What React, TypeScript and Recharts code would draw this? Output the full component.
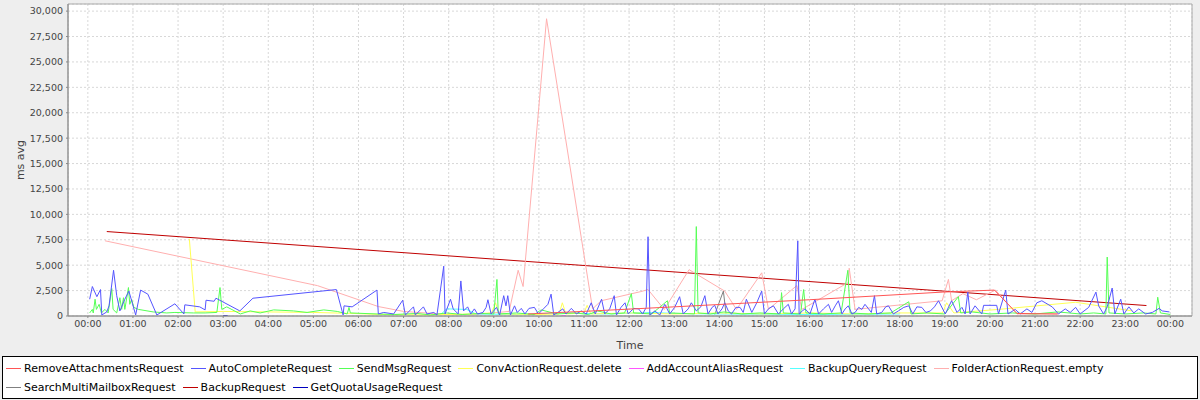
import React from 'react';
import { LineChart, Line, XAxis, YAxis, CartesianGrid, ReferenceArea } from 'recharts';

// [hour of day, ms avg]
const removeAttachments: [number, number][] = [
  [9.76, 200], [11.2, 500], [13.0, 900], [16.0, 1600], [18.94, 2350], [20.1, 2550], [20.6, 250], [21.5, 200],
];

const autoComplete: [number, number][] = [
  [0.04, 1650], [0.1, 2900], [0.2, 1900], [0.28, 2600], [0.31, 100], [0.42, 400], [0.47, 1000], [0.57, 4500],
  [0.64, 2000], [0.71, 500], [0.82, 1650], [0.91, 2450], [0.99, 1200], [1.06, 100], [1.17, 2550], [1.33, 2150],
  [1.53, 100], [1.93, 1200], [2.13, 200], [2.15, 1100], [2.48, 900], [2.6, 600], [2.62, 1550], [2.8, 1450],
  [2.84, 1750], [3.37, 500], [3.66, 1750], [5.51, 2600], [5.66, 100], [5.68, 1000], [5.86, 900], [6.41, 2550],
  [6.44, 200], [6.56, 350], [6.78, 200], [6.98, 1550], [7.04, 100], [7.22, 900], [7.26, 100], [7.44, 900],
  [7.52, 200], [7.67, 350], [7.74, 100], [7.89, 4900], [7.92, 200], [8.04, 1650], [8.1, 700], [8.21, 200],
  [8.27, 3450], [8.33, 500], [8.42, 900], [8.49, 200], [8.57, 700], [8.64, 200], [8.76, 350], [8.83, 850],
  [8.87, 1600], [8.94, 200], [9.06, 850], [9.13, 100], [9.22, 2000], [9.27, 1000], [9.31, 2000], [9.37, 100],
  [9.46, 1000], [9.52, 350], [9.61, 750], [9.69, 200], [9.78, 750], [9.9, 850], [9.99, 200], [10.1, 700],
  [10.2, 1150], [10.27, 2150], [10.33, 100], [10.42, 350], [10.53, 700], [10.6, 200], [10.72, 750], [10.83, 200],
  [10.94, 500], [11.05, 200], [11.16, 1300], [11.25, 200], [11.39, 1650], [11.46, 200], [11.57, 700], [11.67, 2000],
  [11.72, 100], [11.82, 850], [11.91, 1300], [11.98, 200], [12.1, 750], [12.21, 700], [12.3, 200], [12.38, 850],
  [12.42, 7800], [12.46, 100], [12.57, 500], [12.68, 100], [12.79, 1150], [12.9, 200], [13.01, 850], [13.12, 1900],
  [13.2, 200], [13.31, 700], [13.38, 1300], [13.49, 500], [13.59, 900], [13.68, 2000], [13.75, 200], [13.84, 850],
  [13.9, 1050], [13.97, 200], [14.06, 700], [14.12, 1300], [14.2, 500], [14.27, 200], [14.37, 850], [14.46, 850],
  [14.53, 350], [14.6, 1650], [14.72, 350], [14.83, 1300], [14.94, 2450], [15.0, 200], [15.1, 750], [15.2, 1000],
  [15.31, 200], [15.42, 700], [15.53, 1150], [15.6, 200], [15.68, 700], [15.74, 7400], [15.77, 200], [15.84, 500],
  [15.9, 700], [16.01, 200], [16.12, 1650], [16.2, 200], [16.31, 700], [16.42, 1150], [16.49, 350], [16.57, 1000],
  [16.64, 1500], [16.72, 200], [16.79, 700], [16.86, 1000], [16.94, 200], [17.01, 350], [17.09, 850], [17.16, 650],
  [17.23, 1150], [17.31, 700], [17.37, 350], [17.44, 2000], [17.49, 200], [17.6, 350], [17.69, 900], [17.75, 1000],
  [17.86, 200], [17.97, 500], [18.09, 850], [18.2, 1000], [18.29, 200], [18.38, 900], [18.49, 850], [18.58, 350],
  [18.68, 500], [18.77, 900], [18.86, 1500], [19.01, 200], [19.15, 1500], [19.27, 350], [19.38, 850], [19.45, 200],
  [19.51, 2350], [19.56, 200], [19.67, 1000], [19.82, 200], [19.86, 1050], [20.15, 1050], [20.19, 200], [20.35, 2550],
  [20.4, 200], [20.56, 650], [20.67, 200], [20.82, 700], [20.93, 350], [21.04, 1300], [21.15, 1500], [21.38, 900],
  [21.52, 200], [21.67, 700], [21.78, 350], [21.9, 850], [22.0, 200], [22.19, 850], [22.35, 2350], [22.41, 1000],
  [22.52, 200], [22.6, 900], [22.71, 2750], [22.77, 200], [22.9, 1650], [22.97, 200], [23.08, 900], [23.19, 300],
  [23.3, 700], [23.45, 200], [23.6, 350], [23.75, 750], [23.82, 500], [23.98, 400],
];

const sendMsg: [number, number][] = [
  [0.04, 300], [0.1, 650], [0.12, 300], [0.16, 1650], [0.19, 650], [0.25, 1150], [0.3, 300], [0.38, 650],
  [0.45, 300], [0.53, 2700], [0.56, 650], [0.64, 300], [0.71, 1800], [0.75, 650], [0.79, 1800], [0.82, 650],
  [0.9, 2800], [0.93, 1150], [0.97, 1650], [1.02, 850], [1.12, 650], [1.45, 400], [1.75, 300], [1.93, 350],
  [2.34, 300], [2.6, 300], [2.86, 350], [2.93, 2800], [2.97, 650], [3.08, 900], [3.38, 200], [3.6, 500],
  [3.82, 300], [4.12, 600], [4.56, 500], [4.86, 350], [5.23, 600], [5.53, 450], [5.75, 200], [5.79, 850],
  [5.82, 300], [6.41, 200], [6.8, 150], [7.3, 250], [7.6, 100], [7.95, 300], [8.3, 150], [8.7, 250],
  [9.0, 200], [9.07, 3600], [9.1, 200], [9.5, 300], [9.9, 150], [10.05, 600], [10.4, 200], [10.8, 300],
  [11.1, 150], [11.3, 500], [11.6, 200], [11.9, 300], [12.05, 2200], [12.1, 300], [12.5, 200], [12.85, 1500],
  [12.9, 300], [13.2, 250], [13.45, 200], [13.49, 8800], [13.53, 300], [13.8, 200], [14.1, 400], [14.5, 200],
  [14.9, 300], [15.35, 200], [15.38, 2300], [15.42, 300], [15.8, 200], [15.87, 2600], [15.92, 300], [16.3, 200],
  [16.7, 300], [16.85, 4500], [16.9, 300], [17.3, 200], [17.8, 300], [18.2, 1400], [18.25, 200], [18.6, 300],
  [19.0, 200], [19.3, 1900], [19.35, 300], [19.6, 400], [20.0, 200], [20.5, 300], [21.0, 200], [21.5, 400],
  [22.0, 200], [22.3, 300], [22.57, 200], [22.6, 5800], [22.64, 300], [23.0, 200], [23.4, 300], [23.68, 200],
  [23.72, 1850], [23.78, 300], [24.0, 150],
];

const convActionDelete: [number, number][] = [
  [2.25, 7600], [2.38, 400], [3.0, 450], [4.0, 400], [5.0, 350], [5.9, 250], [6.5, 150], [7.5, 100],
  [8.5, 200], [8.95, 300], [9.04, 1300], [9.12, 200], [10.0, 150], [10.45, 200], [10.52, 1300], [10.6, 200],
  [11.0, 300], [11.07, 1050], [11.15, 200], [12.0, 300], [13.0, 200], [14.0, 300], [15.0, 200], [16.0, 300],
  [17.0, 200], [18.0, 300], [18.95, 300], [19.04, 1300], [19.2, 300], [20.19, 650], [21.9, 1350], [23.15, 500],
];

const addAccountAlias: [number, number][] = [[10.5, 30], [10.6, 30]];

const backupQuery: [number, number][] = [
  [7.85, 250], [7.95, 700], [8.4, 650], [8.6, 200], [9.5, 150], [10.5, 300], [11.5, 200], [12.5, 350],
  [13.0, 250], [14.0, 200], [16.0, 150], [18.0, 200],
];

const folderActionEmpty: [number, number][] = [
  [0.38, 7400], [5.09, 2990], [6.44, 930], [7.0, 450], [7.8, 200], [8.5, 100], [9.34, 450], [9.54, 4500],
  [9.65, 2900], [10.17, 29250], [11.19, 700], [11.38, 1500], [12.26, 2400], [12.42, 2600], [12.78, 640], [13.33, 4560],
  [14.12, 2450], [14.38, 650], [14.94, 4250], [15.09, 650], [15.72, 3000], [15.83, 650], [16.86, 3300], [16.88, 4700],
  [17.01, 650], [18.94, 1500], [19.08, 3600], [19.15, 1500], [19.4, 2200], [19.7, 1600], [20.12, 2550], [20.6, 200],
  [21.52, 200],
];

const searchMultiMailbox: [number, number][] = [[13.9, 150], [14.09, 2450], [14.15, 200]];

const backup: [number, number][] = [[0.42, 8310], [23.47, 1030]];

const getQuotaUsage: [number, number][] = [[3.0, 20], [3.1, 20]];

const hourTicks = [0, 1, 2, 3, 4, 5, 6, 7, 8, 9, 10, 11, 12, 13, 14, 15, 16, 17, 18, 19, 20, 21, 22, 23, 24];
const msTicks = [0, 2500, 5000, 7500, 10000, 12500, 15000, 17500, 20000, 22500, 25000, 27500, 30000];

type Series = { name: string; color: string; points: [number, number][] };

const series: Series[] = [
  { name: 'RemoveAttachmentsRequest', color: '#ff5555', points: removeAttachments },
  { name: 'AutoCompleteRequest', color: '#5555ff', points: autoComplete },
  { name: 'SendMsgRequest', color: '#55ff55', points: sendMsg },
  { name: 'ConvActionRequest.delete', color: '#ffff55', points: convActionDelete },
  { name: 'AddAccountAliasRequest', color: '#ff55ff', points: addAccountAlias },
  { name: 'BackupQueryRequest', color: '#55ffff', points: backupQuery },
  { name: 'FolderActionRequest.empty', color: '#ffafaf', points: folderActionEmpty },
  { name: 'SearchMultiMailboxRequest', color: '#808080', points: searchMultiMailbox },
  { name: 'BackupRequest', color: '#c00000', points: backup },
  { name: 'GetQuotaUsageRequest', color: '#0000c0', points: getQuotaUsage },
];

const X_MIN = -0.44;
const X_MAX = 24.48;
const Y_MAX = 30700;
const FONT = '"DejaVu Sans", sans-serif';

const fmtHour = (h: number) => `${String(h % 24).padStart(2, '0')}:00`;
const fmtMs = (v: number) => v.toLocaleString('en-US');

const App: React.FC = () => {
  // first series drawn last, so it sits on top (like the source chart)
  const drawOrder = [...series].reverse();
  return (
    <div style={{ position: 'absolute', left: 0, top: 0, width: 1200, height: 400, background: '#eeeeee', fontFamily: FONT }}>
      <LineChart width={1200} height={352} margin={{ top: 4, right: 8, bottom: 0, left: 0 }}>
        <CartesianGrid fill="#ffffff" stroke="#d8d8d8" strokeDasharray="2 2" />
        <XAxis
          dataKey="x"
          type="number"
          domain={[X_MIN, X_MAX]}
          ticks={hourTicks}
          tickFormatter={fmtHour}
          allowDataOverflow
          height={36}
          stroke="#888888"
          tickSize={2}
          tick={{ fill: '#444444', fontSize: 9.5, fontFamily: FONT }}
          label={{ value: 'Time', position: 'insideBottom', offset: 3, style: { fill: '#444444', fontSize: 11, fontFamily: FONT } }}
        />
        <YAxis
          type="number"
          domain={[0, Y_MAX]}
          ticks={msTicks}
          tickFormatter={fmtMs}
          allowDataOverflow
          width={68}
          stroke="#888888"
          tickSize={2}
          tickMargin={3}
          tick={{ fill: '#444444', fontSize: 9.5, fontFamily: FONT }}
          label={{ value: 'ms avg', angle: -90, position: 'insideLeft', offset: 20, style: { fill: '#444444', fontSize: 11, fontFamily: FONT, textAnchor: 'middle' } }}
        />
        <ReferenceArea x1={X_MIN} x2={X_MAX} y1={0} y2={Y_MAX} fill="none" stroke="#aaaaaa" strokeWidth={1} ifOverflow="visible" />
        {drawOrder.map((s) => (
          <Line
            key={s.name}
            data={s.points.map(([x, y]) => ({ x, y }))}
            dataKey="y"
            name={s.name}
            stroke={s.color}
            strokeWidth={1}
            dot={false}
            activeDot={false}
            type="linear"
            isAnimationActive={false}
          />
        ))}
      </LineChart>
      <div
        style={{
          position: 'absolute', left: 2, top: 356, width: 1196, height: 43,
          border: '1px solid #000000', background: '#ffffff',
          display: 'flex', flexWrap: 'wrap', alignContent: 'flex-start',
          paddingLeft: 1, paddingTop: 2, boxSizing: 'border-box',
          fontSize: 11, color: '#000000', lineHeight: '19px',
        }}
      >
        {series.map((s) => (
          <span key={s.name} style={{ display: 'inline-flex', alignItems: 'center', marginLeft: 2, marginRight: 5, whiteSpace: 'nowrap' }}>
            <span style={{ display: 'inline-block', width: 15, height: 0, borderTop: `1px solid ${s.color}`, marginRight: 3 }} />
            {s.name}
          </span>
        ))}
      </div>
    </div>
  );
};

export default App;
